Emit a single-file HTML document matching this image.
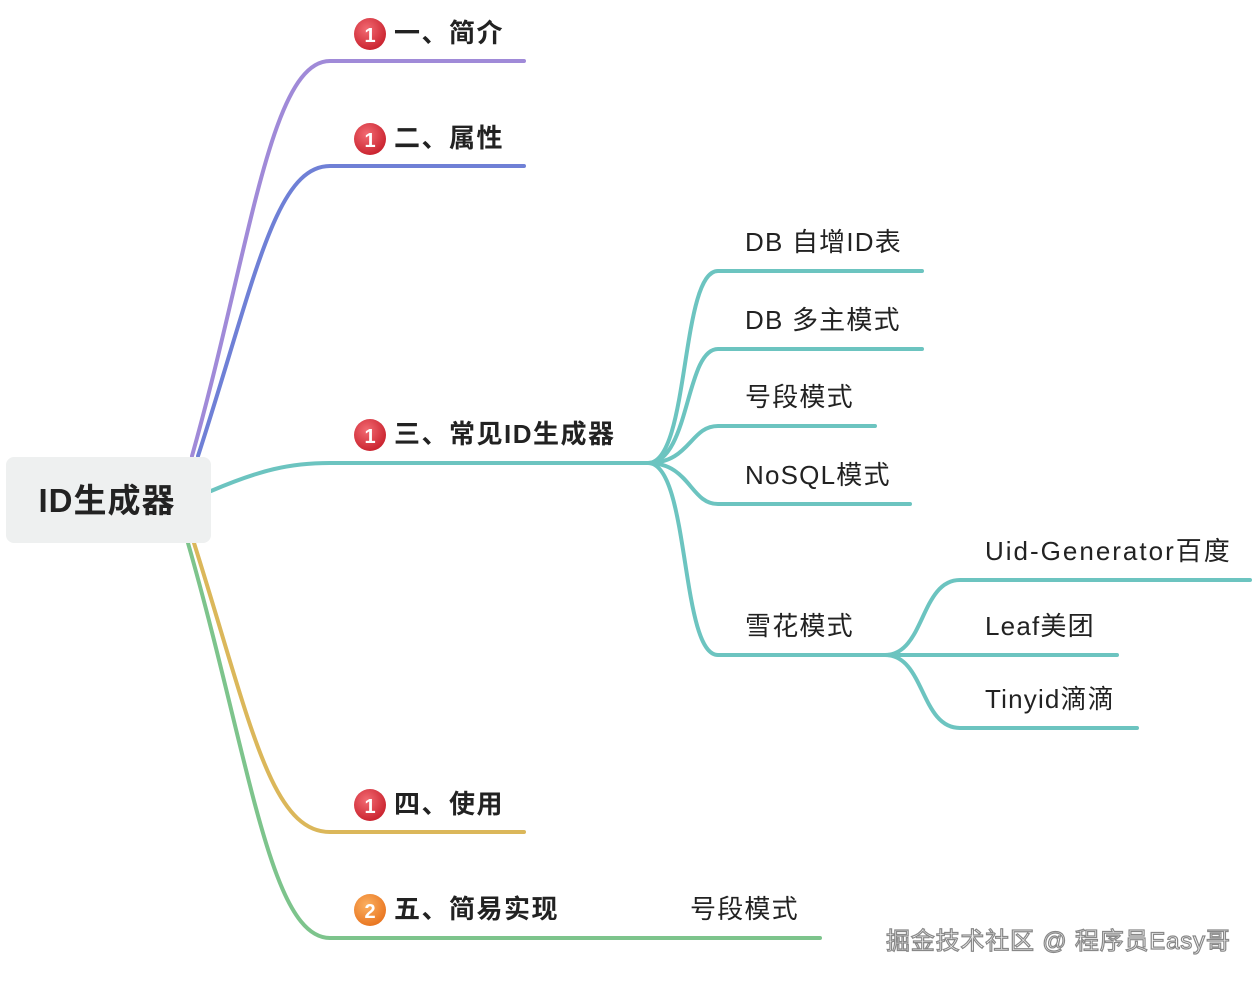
<!DOCTYPE html>
<html><head><meta charset="utf-8"><style>
body{margin:0;background:#fff}
svg text{font-family:"Liberation Sans","Noto Sans CJK SC",sans-serif;fill:#222}
</style></head><body>
<svg width="1254" height="982" viewBox="0 0 1254 982" xmlns="http://www.w3.org/2000/svg">
<defs>
<radialGradient id="r" cx="40%" cy="35%" r="70%"><stop offset="0" stop-color="#f26a72"/><stop offset="1" stop-color="#c8202c"/></radialGradient>
<radialGradient id="o" cx="40%" cy="35%" r="70%"><stop offset="0" stop-color="#fbb060"/><stop offset="1" stop-color="#e8731e"/></radialGradient>
</defs>
<g fill="none" stroke-width="4" stroke-linecap="round">
<path d="M192 456 C250 250 270 61 330 61 L524 61" stroke="#a08ad8"/>
<path d="M198 456 C255 280 275 166 330 166 L524 166" stroke="#6f80d6"/>
<path d="M211 491 C260 470 290 463 330 463 L648 463" stroke="#6cc4c0"/>
<path d="M194 543 C250 720 270 832 330 832 L524 832" stroke="#dbb75a"/>
<path d="M188 543 C250 760 270 938 330 938 L820 938" stroke="#7dc48c"/>
<g stroke="#6cc4c0">
<path d="M648 463 C690 463 680 271 718 271 L922 271"/>
<path d="M648 463 C690 463 685 349 718 349 L922 349"/>
<path d="M648 463 C690 463 690 426 718 426 L875 426"/>
<path d="M648 463 C690 463 690 504 718 504 L910 504"/>
<path d="M648 463 C690 463 680 655 718 655 L885 655"/>
<path d="M885 655 C925 655 920 580 960 580 L1250 580"/>
<path d="M885 655 L1117 655"/>
<path d="M885 655 C925 655 920 728 960 728 L1137 728"/>
</g>
</g>
<rect x="6" y="457" width="205" height="86" rx="8" fill="#eef0f0"/>
<text x="107" y="512" font-size="33" font-weight="bold" text-anchor="middle" letter-spacing="1">ID生成器</text>
<g font-size="26" font-weight="bold" letter-spacing="1.5">
<circle cx="370" cy="34" r="16" fill="url(#r)"/><text x="370" y="42" font-size="20" text-anchor="middle" letter-spacing="0" style="fill:#fff">1</text>
<text x="394" y="42">一、简介</text>
<circle cx="370" cy="139" r="16" fill="url(#r)"/><text x="370" y="147" font-size="20" text-anchor="middle" letter-spacing="0" style="fill:#fff">1</text>
<text x="394" y="147">二、属性</text>
<circle cx="370" cy="435" r="16" fill="url(#r)"/><text x="370" y="443" font-size="20" text-anchor="middle" letter-spacing="0" style="fill:#fff">1</text>
<text x="394" y="443">三、常见ID生成器</text>
<circle cx="370" cy="805" r="16" fill="url(#r)"/><text x="370" y="813" font-size="20" text-anchor="middle" letter-spacing="0" style="fill:#fff">1</text>
<text x="394" y="813">四、使用</text>
<circle cx="370" cy="910" r="16" fill="url(#o)"/><text x="370" y="918" font-size="20" text-anchor="middle" letter-spacing="0" style="fill:#fff">2</text>
<text x="394" y="918">五、简易实现</text>
</g>
<g font-size="26" letter-spacing="1.2">
<text x="690" y="918">号段模式</text>
<text x="745" y="251">DB 自增ID表</text>
<text x="745" y="329">DB 多主模式</text>
<text x="745" y="406">号段模式</text>
<text x="745" y="484">NoSQL模式</text>
<text x="745" y="635">雪花模式</text>
<text x="985" y="560" letter-spacing="2">Uid-Generator百度</text>
<text x="985" y="635">Leaf美团</text>
<text x="985" y="708">Tinyid滴滴</text>
</g>
<text x="886" y="949" font-size="24" letter-spacing="0.8" style="fill:#fff;stroke:#888;stroke-width:1.2">掘金技术社区 @ 程序员Easy哥</text>
</svg>
</body></html>
